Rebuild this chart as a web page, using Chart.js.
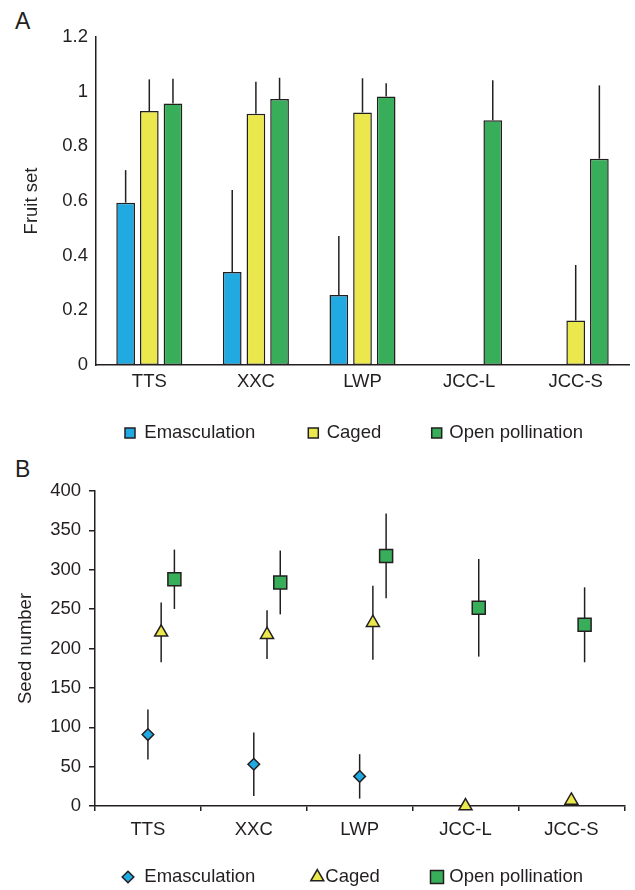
<!DOCTYPE html>
<html>
<head>
<meta charset="utf-8">
<script src="https://cdn.jsdelivr.net/npm/chart.js@4.4.1/dist/chart.umd.min.js"></script>
<style>
html,body{margin:0;padding:0;background:#fff;}
body{width:635px;height:890px;position:relative;overflow:hidden;font-family:"Liberation Sans",Arial,sans-serif;}
.panel{position:absolute;left:0;width:635px;}
#boxA{top:0;height:450px;}
#boxB{top:450px;height:440px;}
.tag{position:absolute;left:15px;font-size:23px;line-height:1;color:#231f20;}
</style>
</head>
<body>
<div class="tag" style="top:10px">A</div>
<div class="tag" style="top:458px">B</div>
<div class="panel" id="boxA"><canvas id="chartA" width="635" height="450"></canvas></div>
<div class="panel" id="boxB"><canvas id="chartB" width="635" height="440"></canvas></div>
<script>
const categories = ['TTS','XXC','LWP','JCC-L','JCC-S'];
const seriesNames = ['Emasculation','Caged','Open pollination'];
const seriesColors = ['#21a9e1','#ebe84d','#38ad5a'];

// A - fruit set, bar heights and upper error
const fruitEmasc = [0.594, 0.340, 0.256, null, null];
const fruitCaged = [0.929, 0.919, 0.924, null, 0.163];
const fruitOpen  = [0.957, 0.973, 0.982, 0.895, 0.755];
const fruitEmascErr = [0.119, 0.300, 0.216, null, null];
const fruitCagedErr = [0.116, 0.117, 0.125, null, 0.203];
const fruitOpenErr  = [0.090, 0.078, 0.049, 0.147, 0.268];
const fruitTicks = [0, 0.2, 0.4, 0.6, 0.8, 1, 1.2];

// B - seed number, means and +/- error
const seedEmasc = [90.7, 53.0, 37.6, null, null];
const seedCaged = [220.5, 217.6, 232.7, 0, 7];
const seedOpen  = [287.9, 283.9, 317.5, 251.7, 230.1];
const seedEmascErr = [31.8, 40.3, 28.2, null, null];
const seedCagedErr = [38.0, 31.0, 47.0, 0, 0];
const seedOpenErr  = [37.7, 40.5, 53.8, 62.0, 47.6];
const seedTicks = [0, 50, 100, 150, 200, 250, 300, 350, 400];
const seedStyles = ['rectRot','triangle','rect'];
const seedRadius = [5.8, 7.5, 9.2];

const INK = '#231f20';
const FONT = '"Liberation Sans", Arial, sans-serif';
const SLOT = 0.125; // shift between markers inside one category

Chart.defaults.font.family = FONT;
Chart.defaults.font.size = 18.5;
Chart.defaults.color = INK;

/* ===== error bars ===== */
function drawErrors(chart){
  const ctx = chart.ctx, ys = chart.scales.y;
  ctx.save();
  ctx.strokeStyle = INK;
  ctx.lineWidth = 1.5;
  chart.data.datasets.forEach((ds,i)=>{
    const meta = chart.getDatasetMeta(i);
    ds.data.forEach((d,k)=>{
      const el = meta.data[k];
      if(!el) return;
      let v, up, lo;
      if(typeof d === 'object' && d !== null){ v = d.y; up = v + d.err; lo = v - d.err; }
      else { if(d == null || ds.errors[k] == null) return; v = d; up = v + ds.errors[k]; lo = v; }
      if(up === lo) return;
      ctx.beginPath();
      ctx.moveTo(el.x, ys.getPixelForValue(lo));
      ctx.lineTo(el.x, ys.getPixelForValue(up));
      ctx.stroke();
    });
  });
  ctx.restore();
}
const errorBars = {
  id:'errorBars',
  beforeDatasetsDraw(chart,args,opts){ if(opts.under) drawErrors(chart); },
  afterDatasetsDraw(chart,args,opts){ if(!opts.under) drawErrors(chart); }
};

/* ===== legend drawn in a row ===== */
const rowLegend = {
  id:'rowLegend',
  afterDraw(chart,args,opts){
    const ctx = chart.ctx;
    ctx.save();
    ctx.font = '18.5px ' + FONT;
    ctx.textBaseline = 'middle';
    ctx.textAlign = 'left';
    chart.data.datasets.forEach((ds,i)=>{
      const mx = opts.marks[i];
      ctx.fillStyle = seriesColors[i];
      ctx.strokeStyle = INK;
      ctx.lineWidth = 1.5;
      if(opts.boxes){
        ctx.fillRect(mx-5, opts.y-5, 10, 10);
        ctx.strokeRect(mx-5, opts.y-5, 10, 10);
      } else {
        Chart.helpers.drawPoint(ctx, {pointStyle:ds.pointStyle, radius:ds.legendRadius, rotation:0, borderWidth:1.5}, mx, opts.y);
      }
      ctx.fillStyle = INK;
      ctx.fillText(ds.label, opts.texts[i], opts.y);
    });
    ctx.restore();
  }
};

/* ===== A: fruit set ===== */
const fruitSeries = [fruitEmasc, fruitCaged, fruitOpen];
const fruitErrs = [fruitEmascErr, fruitCagedErr, fruitOpenErr];

new Chart(document.getElementById('chartA'),{
  type:'bar',
  data:{
    labels:categories,
    datasets:fruitSeries.map((arr,i)=>({
      label:seriesNames[i],
      data:arr,
      errors:fruitErrs[i],
      backgroundColor:seriesColors[i],
      borderColor:INK,
      borderWidth:1.5,
      borderSkipped:false,
      categoryPercentage:0.666,
      barPercentage:0.79
    }))
  },
  options:{
    responsive:false,
    animation:false,
    events:[],
    layout:{padding:{top:37,right:6,left:0,bottom:0}},
    plugins:{
      legend:{display:false},
      tooltip:{enabled:false},
      errorBars:{under:false},
      rowLegend:{boxes:true, y:433, marks:[130,313.3,436.7], texts:[144.3,326.7,449.3]}
    },
    scales:{
      x:{
        grid:{display:false, drawTicks:false},
        border:{display:true, color:INK, width:1.5},
        ticks:{padding:6},
        afterFit:s=>{ s.height = 85; }
      },
      y:{
        min:0, max:1.2,
        grid:{display:false, drawTicks:false},
        border:{display:true, color:INK, width:1.5},
        ticks:{padding:8, callback:v=>String(v)},
        afterBuildTicks:s=>{ s.ticks = fruitTicks.map(v=>({value:v})); },
        title:{display:true, text:'Fruit set', padding:{top:21,bottom:0}},
        afterFit:s=>{ s.width = 96; }
      }
    }
  },
  plugins:[errorBars,rowLegend]
});

/* ===== B: seed number ===== */
const seedSeries = [seedEmasc, seedCaged, seedOpen];
const seedErrs = [seedEmascErr, seedCagedErr, seedOpenErr];
const seedPoints = seedSeries.map(()=>[]);
categories.forEach((c,j)=>{
  let slot = 0;
  seedSeries.forEach((arr,i)=>{
    if(arr[j] == null) return;
    seedPoints[i].push({x:j + slot*SLOT, y:arr[j], err:seedErrs[i][j]});
    slot++;
  });
});

new Chart(document.getElementById('chartB'),{
  type:'scatter',
  data:{
    labels:categories,
    datasets:seedPoints.map((pts,i)=>({
      label:seriesNames[i],
      data:pts,
      xAxisID:'xv',
      yAxisID:'y',
      clip:false,
      pointStyle:seedStyles[i],
      pointRadius:seedRadius[i],
      legendRadius:seedRadius[i],
      pointBackgroundColor:seriesColors[i],
      pointBorderColor:INK,
      pointBorderWidth:1.5
    }))
  },
  options:{
    responsive:false,
    animation:false,
    events:[],
    layout:{padding:{top:41,right:7,left:0,bottom:0}},
    plugins:{
      legend:{display:false},
      tooltip:{enabled:false},
      errorBars:{under:true},
      rowLegend:{boxes:false, y:427, marks:[128,317.3,437], texts:[144.3,325.3,449.3]}
    },
    scales:{
      x:{
        type:'category',
        labels:categories,
        offset:true,
        grid:{display:true, drawOnChartArea:false, offset:true, drawTicks:true, tickLength:5, color:INK, lineWidth:1.5},
        border:{display:true, color:INK, width:1.5},
        ticks:{padding:8},
        afterFit:s=>{ s.height = 84; }
      },
      xv:{
        type:'linear',
        display:false,
        min:-0.5, max:categories.length-0.5
      },
      y:{
        min:0, max:400,
        grid:{display:true, drawOnChartArea:false, drawTicks:true, tickLength:6, color:INK, lineWidth:1.5},
        border:{display:true, color:INK, width:1.5},
        ticks:{padding:8, callback:v=>String(v)},
        afterBuildTicks:s=>{ s.ticks = seedTicks.map(v=>({value:v})); },
        title:{display:true, text:'Seed number', padding:{top:15,bottom:0}},
        afterFit:s=>{ s.width = 95; }
      }
    }
  },
  plugins:[errorBars,rowLegend]
});
</script>
</body>
</html>
